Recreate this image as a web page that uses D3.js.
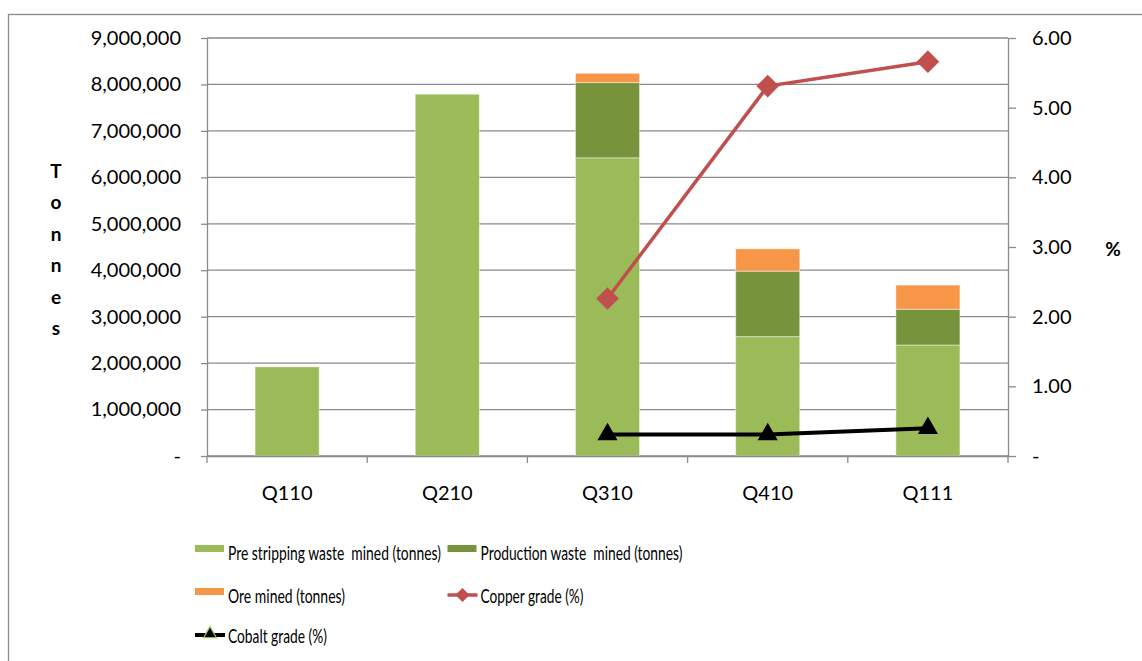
<!DOCTYPE html>
<html>
<head>
<meta charset="utf-8">
<script src="https://cdn.jsdelivr.net/npm/d3@7"></script>
<style>
  html, body { margin: 0; padding: 0; background: #fff; }
  svg { display: block; font-family: Lato, "Open Sans", sans-serif; }
</style>
</head>
<body>
<svg width="1142" height="661"></svg>
<script>
var quarters = ["Q110", "Q210", "Q310", "Q410", "Q111"];
var preStripping = [1920000, 7790000, 6420000, 2570000, 2390000];
var productionWaste = [0, 0, 1620000, 1410000, 770000];
var oreMined = [0, 0, 200000, 480000, 520000];
var copperGrade = [null, null, 2.26, 5.31, 5.66];
var cobaltGrade = [null, null, 0.31, 0.31, 0.40];
var leftTicks = [0, 1000000, 2000000, 3000000, 4000000, 5000000, 6000000, 7000000, 8000000, 9000000];
var rightTicks = [0, 1, 2, 3, 4, 5, 6];
var legendNames = ["Pre stripping waste  mined (tonnes)", "Production waste  mined (tonnes)",
	"Ore mined (tonnes)", "Copper grade (%)", "Cobalt grade (%)"];

var lightGreen = "#9bbb59", darkGreen = "#77933c", orange = "#f79646", copper = "#c0504d";
var axisGrey = "#8a8a8a";

var svg = d3.select("svg");
var plotLeft = 207, plotRight = 1008, plotTop = 38, plotBottom = 456;

// outer chart border
svg.append("rect").attr("x", 8.5).attr("y", 14.5).attr("width", 1200).attr("height", 700)
	.style("fill", "none").style("stroke", axisGrey).style("stroke-width", 1.3);

var x = d3.scaleBand().domain(quarters).range([plotLeft, plotRight]);
var y = d3.scaleLinear().domain([0, 9000000]).range([plotBottom, plotTop]);
var y2 = d3.scaleLinear().domain([0, 6]).range([plotBottom, plotTop]);

// gridlines
svg.append("g").selectAll("line").data(leftTicks).enter().append("line")
	.attr("x1", plotLeft).attr("x2", plotRight)
	.attr("y1", function(d){return y(d)}).attr("y2", function(d){return y(d)})
	.style("stroke", axisGrey).style("stroke-width", 1.3);

// stacked bars
var stack = d3.stack().keys(["pre", "prod", "ore"]);
var rows = quarters.map(function(q, i){
	return {q: q, pre: preStripping[i], prod: productionWaste[i], ore: oreMined[i]};
});
var layers = stack(rows);
var colors = [lightGreen, darkGreen, orange];
var barW = x.bandwidth() * 0.4;

svg.append("g").selectAll("g").data(layers).enter().append("g")
	.style("fill", function(d, i){return colors[i]})
	.selectAll("rect").data(function(d){return d.filter(function(s){return s[1] > s[0]})}).enter().append("rect")
	.attr("x", function(d){return x(d.data.q) + (x.bandwidth() - barW) / 2})
	.attr("width", barW)
	.attr("y", function(d){return y(d[1])})
	.attr("height", function(d){return y(d[0]) - y(d[1])})
	.style("stroke", "rgba(255,255,255,0.45)").style("stroke-width", 1);

// axes
var fmtLeft = function(v){return v === 0 ? "-" : d3.format(",")(v)};
var fmtRight = function(v){return v === 0 ? "-" : d3.format(".2f")(v)};

var gl = svg.append("g").attr("transform", "translate(" + plotLeft + ",0)")
	.call(d3.axisLeft(y).tickValues(leftTicks).tickFormat(fmtLeft).tickSizeInner(6).tickSizeOuter(0).tickPadding(20));
var gr = svg.append("g").attr("transform", "translate(" + plotRight + ",0)")
	.call(d3.axisRight(y2).tickValues(rightTicks).tickFormat(fmtRight).tickSizeInner(8).tickSizeOuter(0).tickPadding(16));
var gx = svg.append("g").attr("transform", "translate(0," + plotBottom + ")")
	.call(d3.axisBottom(x).tickSize(0).tickPadding(30));

[gl, gr, gx].forEach(function(g){
	g.select(".domain").style("stroke", axisGrey).style("stroke-width", 1.3);
	g.selectAll(".tick line").style("stroke", axisGrey).style("stroke-width", 1.3);
	g.selectAll("text").style("font-family", "Lato, sans-serif").style("font-size", "20px").style("fill", "#000");
});

// category boundary ticks on x axis
var bounds = quarters.map(function(q){return x(q)}).concat([plotRight]);
svg.append("g").selectAll("line").data(bounds).enter().append("line")
	.attr("x1", function(d){return d}).attr("x2", function(d){return d})
	.attr("y1", plotBottom).attr("y2", plotBottom + 7)
	.style("stroke", axisGrey).style("stroke-width", 1.3);

// axis titles
svg.append("g").selectAll("text").data("Tonnes".split("")).enter().append("text")
	.attr("x", 56).attr("y", function(d, i){return 171 + i * 31.5})
	.attr("dy", "0.35em").attr("text-anchor", "middle")
	.style("font-size", "19px").style("font-weight", "bold")
	.text(function(d){return d});
svg.append("text").attr("x", 1113).attr("y", 249).attr("dy", "0.35em").attr("text-anchor", "middle")
	.style("font-size", "19px").style("font-weight", "bold").text("%");

// lines
var cx = function(i){return x(quarters[i]) + x.bandwidth() / 2};
var lineOf = function(vals){
	return d3.line().defined(function(d){return d != null})
		.x(function(d, i){return cx(i)}).y(function(d){return y2(d)})(vals);
};
var pointsOf = function(vals){
	var pts = [];
	vals.forEach(function(d, i){ if (d != null) pts.push({i: i, v: d}); });
	return pts;
};

svg.append("path").attr("d", lineOf(copperGrade))
	.style("fill", "none").style("stroke", copper).style("stroke-width", 3.5);
svg.append("g").selectAll("path").data(pointsOf(copperGrade)).enter().append("path")
	.attr("d", d3.symbol().type(d3.symbolSquare).size(256))
	.attr("transform", function(d){return "translate(" + cx(d.i) + "," + y2(d.v) + ") rotate(45)"})
	.style("fill", copper);

svg.append("path").attr("d", lineOf(cobaltGrade))
	.style("fill", "none").style("stroke", "#000").style("stroke-width", 4);
svg.append("g").selectAll("path").data(pointsOf(cobaltGrade)).enter().append("path")
	.attr("d", d3.symbol().type(d3.symbolTriangle).size(175))
	.attr("transform", function(d){return "translate(" + cx(d.i) + "," + y2(d.v) + ")"})
	.style("fill", "#000");

// legend
var legendPos = [
	{x: 195, y: 553, w: 213, kind: "rect", color: lightGreen},
	{x: 447.5, y: 553, w: 202, kind: "rect", color: darkGreen},
	{x: 195, y: 596, w: 117, kind: "rect", color: orange},
	{x: 447.5, y: 596, w: 103, kind: "diamond", color: copper},
	{x: 195, y: 636, w: 99, kind: "triangle", color: "#000"}
];
var lg = svg.append("g").selectAll("g").data(legendPos).enter().append("g")
	.attr("transform", function(d){return "translate(" + d.x + "," + d.y + ")"});

lg.filter(function(d){return d.kind === "rect"}).append("rect")
	.attr("x", 0).attr("y", -8).attr("width", 29).attr("height", 7)
	.style("fill", function(d){return d.color});
lg.filter(function(d){return d.kind !== "rect"}).append("line")
	.attr("x1", 0).attr("x2", 30).attr("y1", -1).attr("y2", -1)
	.style("stroke", function(d){return d.color})
	.style("stroke-width", function(d){return d.kind === "triangle" ? 4 : 3.5});
lg.filter(function(d){return d.kind === "diamond"}).append("path")
	.attr("d", d3.symbol().type(d3.symbolSquare).size(100))
	.attr("transform", "translate(15,-1) rotate(45)")
	.style("fill", copper);
lg.filter(function(d){return d.kind === "triangle"}).append("path")
	.attr("d", d3.symbol().type(d3.symbolTriangle).size(70))
	.attr("transform", "translate(15,-2)")
	.style("fill", "#000").style("stroke", lightGreen).style("stroke-width", 1.2);

// legend labels: the reference font is narrow, so squeeze horizontally to the measured width
lg.append("text")
	.attr("x", 0).attr("y", 0).attr("dy", "0.35em")
	.style("font-size", "20px")
	.style("white-space", "pre")
	.text(function(d, i){return legendNames[i]})
	.attr("transform", function(d){
		var sx = d.w / this.getComputedTextLength();
		return "translate(33,0) scale(" + sx + ",1)";
	});
</script>
</body>
</html>
